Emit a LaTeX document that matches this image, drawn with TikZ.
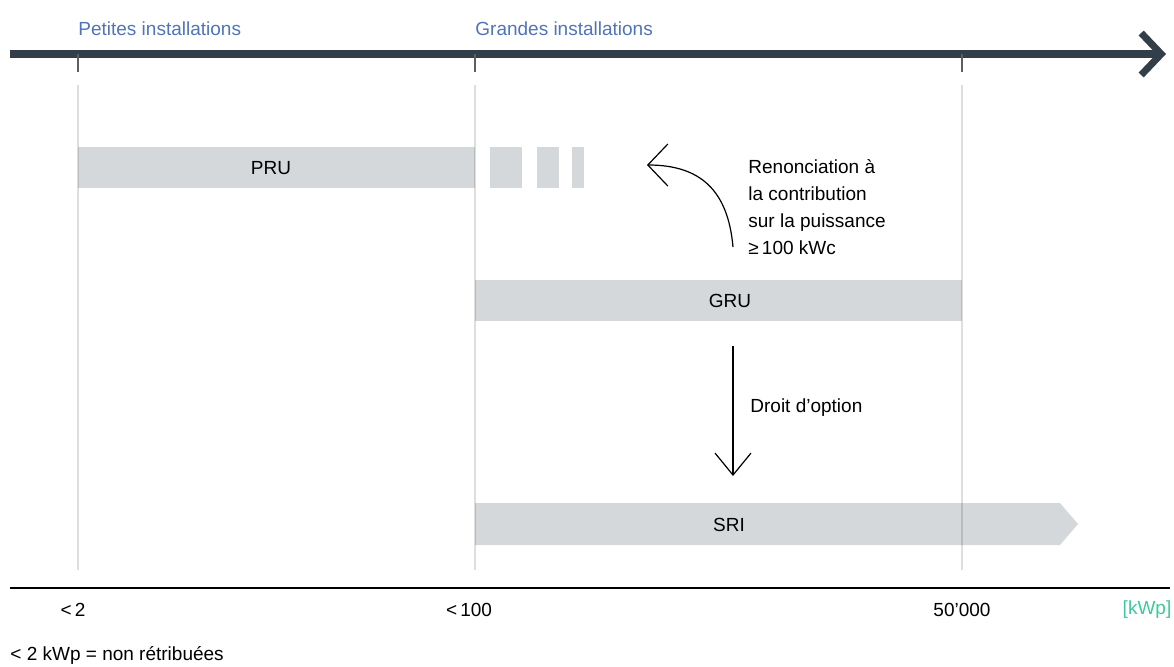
\documentclass[tikz,border=0pt]{standalone}
\usepackage{fontspec}
\setmainfont{Liberation Sans}
\usetikzlibrary{arrows.meta}
\definecolor{AxisClr}{HTML}{333F48}
\definecolor{HeadClr}{HTML}{4F74B9}
\definecolor{UnitClr}{HTML}{3CC99B}
\definecolor{BarClr}{HTML}{D5D8DA}
\definecolor{TickClr}{HTML}{5A5F63}

\begin{document}
\begin{tikzpicture}[x=0.5pt,y=-0.5pt,font=\fontsize{9.5}{13.5}\selectfont,
  every node/.style={inner sep=0pt},
  bar/.style={fill=BarClr},
  grid/.style={black,opacity=0.13,line width=0.6pt},
  tick/.style={TickClr,line width=0.7pt},
  head/.style={HeadClr,anchor=west},
  thinarrow/.style={line width=0.6pt}]
\useasboundingbox (0,0) rectangle (1174,666);

% points on the axis
\coordinate (S) at (10,54);
\coordinate (E) at (1166,54);
\coordinate (P2) at (78,54);
\coordinate (P100) at (475,54);
\coordinate (P50k) at (962,54);

% bars
\fill[bar] (78,147) rectangle (475,188);
\fill[bar] (490,147) rectangle (522,188);
\fill[bar] (537,147) rectangle (559,188);
\fill[bar] (572,147) rectangle (584,188);
\fill[bar] (475,280) rectangle (962,321);
\fill[bar] (475,503) -- (1060,503) -- (1078,524) -- (1060,545) -- (475,545) -- cycle;

% grid
\foreach \x in {78,475,962}
  \draw[grid] (\x,85) -- (\x,570);

% top axis
\draw[AxisClr,line width=3.8pt,-{Straight Barb[length=10pt,width=21pt,line width=3.5pt]}] (S) -- (E);
\foreach \p in {P2,P100,P50k}
  \draw[tick] (\p) -- ++(0,18);

\node[head] (petites) at (78,29) {Petites installations};
\node[head] (grandes) at (475,29) {Grandes installations};

% bar labels
\node (pru) at (271,168) {PRU};
\node (gru) at (730,301) {GRU};
\node (sri) at (729,525) {SRI};

% arrows
\coordinate (c1) at (733,247);
\coordinate (c2) at (647,165);
\draw[thinarrow,-{Straight Barb[length=10pt,width=21pt]}] (c1) .. controls (728,190) and (700,165) .. (c2);
\node[anchor=west,align=left] (renon) at (748,207) {Renonciation à\\la contribution\\sur la puissance\\≥\,100 kWc};

\coordinate (d1) at (733,346);
\coordinate (d2) at (733,476);
\draw[thinarrow,-{Straight Barb[length=11pt,width=18pt]}] (d1) -- (d2);
\node[anchor=west] (droit) at (750,408) {Droit d’option};

% bottom scale
\coordinate (B1) at (10,588);
\coordinate (B2) at (1170,588);
\draw[line width=0.7pt] (B1) -- (B2);
\node (v2) at (73,610) {<\,2};
\node (v100) at (469,610) {<\,100};
\node (v50k) at (962,610) {50’000};
\node[UnitClr] (unit) at (1147,610) {[kWp]};

\node[anchor=west] (note) at (10,655) {< 2 kWp = non rétribuées};
\end{tikzpicture}
\end{document}
